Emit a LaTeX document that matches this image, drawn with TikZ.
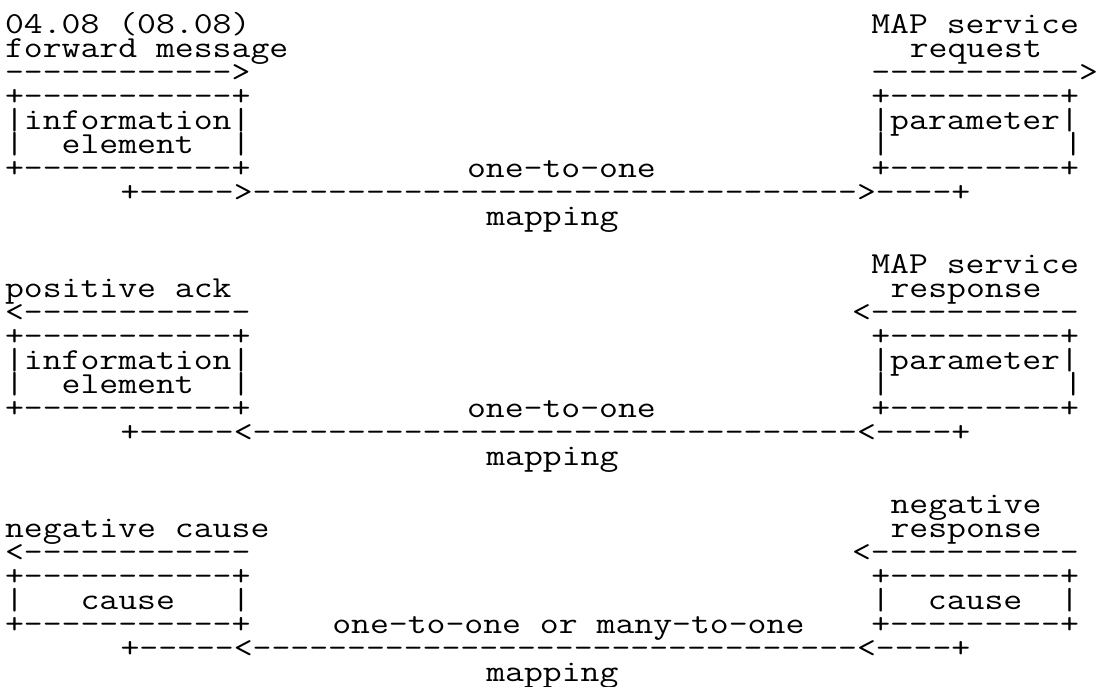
\documentclass[tikz,border=0pt]{standalone}
\usepackage{graphicx}
\newcount\dshn
\newcommand\dsh[1]{\dshn=#1\relax\loop\ifnum\dshn>0 -\kern0pt\advance\dshn by -1\repeat}
\tikzset{txt/.style={anchor=base west,inner sep=0pt,outer sep=0pt,font=\fontsize{30.48pt}{30.48pt}\selectfont\ttfamily}}
\newcommand\Rtxt[4]{\node[txt] (#1) at ({#2+0.26},{#3+0.375}) {\scalebox{1.2031}[1]{#4}};}
\begin{document}
\begin{tikzpicture}[x=19.25pt,y=-24pt]
\useasboundingbox (0pt,0pt) rectangle (1100pt,-686pt);
% block 1
\Rtxt{r1a}{0}{1}{04.08 (08.08)}
\Rtxt{r1b}{45}{1}{MAP service}
\Rtxt{r2a}{0}{2}{forward message}
\Rtxt{r2b}{47}{2}{request}
\Rtxt{r3a}{0}{3}{\dsh{12}>}
\Rtxt{r3b}{45}{3}{\dsh{11}>}
\Rtxt{r4a}{0}{4}{+\dsh{11}+}
\Rtxt{r4b}{45}{4}{+\dsh{9}+}
\Rtxt{r5a}{0}{5}{|information|}
\Rtxt{r5b}{45}{5}{|parameter|}
\Rtxt{r6a}{0}{6}{|\ \ element\ \ |}
\Rtxt{r6b}{45}{6}{|}
\Rtxt{r6c}{55}{6}{|}
\Rtxt{r7a}{0}{7}{+\dsh{11}+}
\Rtxt{r7b}{24}{7}{one-to-one}
\Rtxt{r7c}{45}{7}{+\dsh{9}+}
\Rtxt{r8a}{6}{8}{+\dsh{5}>\dsh{32}>\dsh{4}+}
\Rtxt{r9a}{25}{9}{mapping}
% block 2
\Rtxt{r11a}{45}{11}{MAP service}
\Rtxt{r12a}{0}{12}{positive ack}
\Rtxt{r12b}{46}{12}{response}
\Rtxt{r13a}{0}{13}{<\dsh{12}}
\Rtxt{r13b}{44}{13}{<\dsh{11}}
\Rtxt{r14a}{0}{14}{+\dsh{11}+}
\Rtxt{r14b}{45}{14}{+\dsh{9}+}
\Rtxt{r15a}{0}{15}{|information|}
\Rtxt{r15b}{45}{15}{|parameter|}
\Rtxt{r16a}{0}{16}{|\ \ element\ \ |}
\Rtxt{r16b}{45}{16}{|}
\Rtxt{r16c}{55}{16}{|}
\Rtxt{r17a}{0}{17}{+\dsh{11}+}
\Rtxt{r17b}{24}{17}{one-to-one}
\Rtxt{r17c}{45}{17}{+\dsh{9}+}
\Rtxt{r18a}{6}{18}{+\dsh{5}<\dsh{32}<\dsh{4}+}
\Rtxt{r19a}{25}{19}{mapping}
% block 3
\Rtxt{r21a}{46}{21}{negative}
\Rtxt{r22a}{0}{22}{negative cause}
\Rtxt{r22b}{46}{22}{response}
\Rtxt{r23a}{0}{23}{<\dsh{12}}
\Rtxt{r23b}{44}{23}{<\dsh{11}}
\Rtxt{r24a}{0}{24}{+\dsh{11}+}
\Rtxt{r24b}{45}{24}{+\dsh{9}+}
\Rtxt{r25a}{0}{25}{|\ \ \ cause\ \ \ |}
\Rtxt{r25b}{45}{25}{|\ \ cause\ \ |}
\Rtxt{r26a}{0}{26}{+\dsh{11}+}
\Rtxt{r26b}{17}{26}{one-to-one or many-to-one}
\Rtxt{r26c}{45}{26}{+\dsh{9}+}
\Rtxt{r27a}{6}{27}{+\dsh{5}<\dsh{32}<\dsh{4}+}
\Rtxt{r28a}{25}{28}{mapping}
\end{tikzpicture}
\end{document}
